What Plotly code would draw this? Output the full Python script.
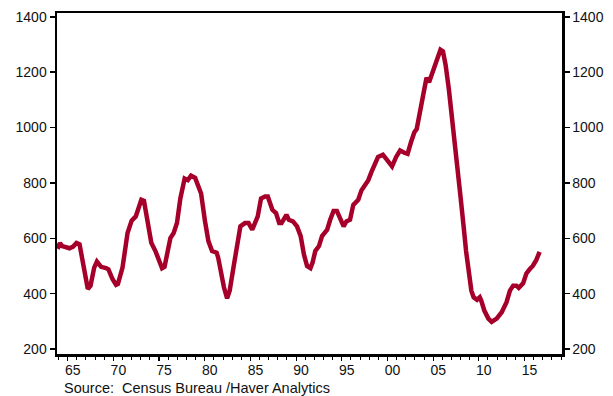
import plotly.graph_objects as go

# Decimal year and value (thousands)
years = [1963.9, 1964.15, 1964.4, 1964.7, 1965.2, 1965.6, 1965.96, 1966.3, 1966.67, 1967.0, 1967.2, 1967.5,
         1967.9, 1968.2, 1968.66, 1969.2, 1969.46, 1969.9, 1970.3, 1970.5, 1971.0, 1971.55, 1972.0,
         1972.45, 1972.56, 1973.06, 1973.35, 1973.7, 1974.15, 1974.6, 1975.0, 1975.33, 1975.6,
         1975.98, 1976.24, 1976.6, 1976.96, 1977.33, 1977.8, 1978.15, 1978.5, 1978.95, 1979.3,
         1979.6, 1980.03, 1980.4, 1980.8, 1981.3, 1981.47, 1981.76, 1982.1, 1982.45, 1982.73,
         1983.2, 1983.55, 1983.9, 1984.4, 1984.8, 1985.2, 1985.5, 1985.8, 1986.16, 1986.6, 1986.9,
         1987.1, 1987.4, 1987.8, 1988.15, 1988.4, 1988.94, 1989.2, 1989.65, 1990.1, 1990.5,
         1990.85, 1991.2, 1991.57, 1991.8, 1992.1, 1992.5, 1992.84, 1993.4, 1993.73, 1994.1,
         1994.46, 1994.8, 1995.2, 1995.5, 1995.9, 1996.26, 1996.8, 1997.16, 1997.5, 1997.9,
         1998.25, 1998.6, 1998.97, 1999.5, 1999.87, 2000.2, 2000.5, 2000.95, 2001.38, 2001.85,
         2002.2, 2002.57, 2002.94, 2003.2, 2003.47, 2003.76, 2004.0, 2004.27, 2004.55, 2004.85,
         2005.2, 2005.46, 2005.8, 2006.07, 2006.36, 2006.72, 2007.09, 2007.37, 2007.6, 2007.97,
         2008.16, 2008.35, 2008.6, 2008.9, 2009.18, 2009.43, 2009.8, 2010.1, 2010.26, 2010.6,
         2011.04, 2011.4, 2011.95, 2012.5, 2013.03, 2013.4, 2013.76, 2014.1, 2014.37, 2014.84,
         2015.2, 2015.56, 2015.9, 2016.28, 2016.65]
sales = [562, 583, 572, 568, 564, 570, 583, 578, 506, 440, 417, 429,
         494, 516, 497, 492, 488, 453, 432, 435, 494, 619, 664,
         679, 691, 739, 735, 667, 584, 554, 518, 492, 497,
         554, 601, 619, 655, 744, 816, 810, 826, 818, 786,
         762, 661, 590, 554, 548, 530, 476, 423, 383, 411,
         506, 578, 643, 655, 655, 631, 661, 679, 744, 751, 751,
         733, 703, 691, 655, 655, 685, 667, 661, 643, 608,
         542, 500, 492, 512, 554, 572, 608, 631, 667, 699,
         699, 673, 643, 661, 667, 721, 739, 774, 792, 810,
         840, 864, 894, 902, 885, 876, 860, 894, 917, 909,
         905, 947, 983, 995, 1043, 1084, 1132, 1180, 1164, 1191,
         1227, 1257, 1281, 1275, 1227, 1138, 1010, 930, 870, 757,
         710, 637, 554, 471, 411, 387, 378, 387, 375, 339,
         310, 298, 310, 333, 369, 411, 429, 429, 421, 437,
         473, 488, 500, 521, 551]

tick_years = [1965, 1970, 1975, 1980, 1985, 1990, 1995, 2000, 2005, 2010, 2015]
tick_labels = ["65", "70", "75", "80", "85", "90", "95", "00", "05", "10", "15"]
y_ticks = [200, 400, 600, 800, 1000, 1200, 1400]

line_color = "#A6002A"
font = dict(family="Liberation Sans, Arial, sans-serif", size=14, color="#111111")
yr = [182, 1414]

fig = go.Figure()
fig.add_trace(go.Scatter(x=years, y=sales, mode="lines",
                         line=dict(color=line_color, width=4.5), hoverinfo="skip",
                         showlegend=False))
fig.add_trace(go.Scatter(x=years, y=sales, mode="lines", yaxis="y2",
                         line=dict(color="rgba(0,0,0,0)", width=0), hoverinfo="skip",
                         showlegend=False))

fig.update_layout(
    width=613, height=396,
    margin=dict(l=57, r=45, t=9, b=42),
    paper_bgcolor="white", plot_bgcolor="white",
    font=font,
    xaxis=dict(range=[1963.83, 2019.1], tickvals=tick_years, ticktext=tick_labels,
               ticks="outside", ticklen=4, tickwidth=1.2, tickcolor="black",
               ticklabelshift=5, ticklabelstandoff=-2, showgrid=False, zeroline=False,
               showline=True, linecolor="black", linewidth=2.5, mirror=True,
               minor=dict(ticks="outside", dtick=1, tick0=1960, ticklen=3,
                          tickwidth=1, tickcolor="black", showgrid=False),
               tickfont=font),
    yaxis=dict(range=yr, tickvals=y_ticks, ticks="outside", ticklen=5, tickwidth=1.5,
               tickcolor="black", showgrid=False, zeroline=False,
               showline=True, linecolor="black", linewidth=2.5, mirror=True,
               tickfont=font),
    yaxis2=dict(range=yr, tickvals=y_ticks, overlaying="y", side="right",
                ticks="outside", ticklen=5, tickwidth=1.5, tickcolor="black",
                showgrid=False, zeroline=False, showline=True, linecolor="black",
                linewidth=2.5, tickfont=font),
    annotations=[dict(text="Source:  Census Bureau /Haver Analytics", xref="paper", yref="paper",
                      x=0.0098, y=-0.1, xanchor="left", yanchor="middle", showarrow=False,
                      font=dict(family="Liberation Sans, Arial, sans-serif", size=14.5, color="#111111"))],
)

fig.write_html("out.html", post_script="document.body.style.margin='0';",
               config={"displayModeBar": False, "staticPlot": True})
